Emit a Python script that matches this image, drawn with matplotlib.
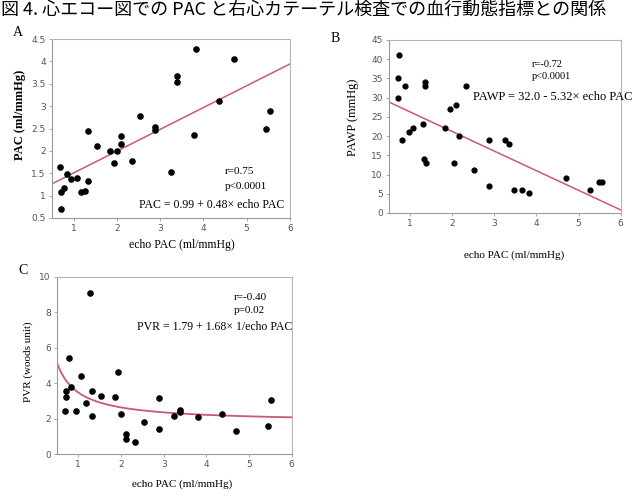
import numpy as np
from matplotlib import pyplot as plt

plt.rcParams['font.family'] = ['Liberation Serif', 'DejaVu Serif']

# A: echo PAC vs PAC
a_x = [0.69, 0.70, 0.70, 0.78, 0.84, 0.95, 1.07, 1.17, 1.27, 1.33, 1.33, 1.55, 1.85, 1.93,
       2.00, 2.10, 2.10, 2.34, 2.54, 2.87, 2.87, 3.26, 3.40, 3.40, 3.79, 3.84, 4.37, 4.70,
       5.45, 5.54]
a_y = [1.64, 1.09, 0.69, 1.17, 1.48, 1.37, 1.39, 1.08, 1.11, 2.45, 1.33, 2.11, 1.99, 1.73,
       1.99, 2.16, 2.34, 1.78, 2.78, 2.53, 2.47, 1.53, 3.68, 3.53, 2.35, 4.27, 3.12, 4.05,
       2.50, 2.89]
a_fit = (1.02, 0.487)

# B: echo PAC vs PAWP
b_x = [0.73, 0.71, 0.71, 0.87, 0.80, 0.98, 1.08, 1.30, 1.35, 1.35, 1.34, 1.38, 1.84, 1.94,
       2.04, 2.10, 2.17, 2.34, 2.51, 2.87, 2.87, 3.25, 3.35, 3.46, 3.65, 3.83, 4.70, 5.27,
       5.49, 5.56]
b_y = [41.1, 35.0, 30.0, 33.0, 18.9, 21.0, 22.0, 23.1, 34.1, 33.1, 14.1, 13.0, 22.0, 27.0,
       13.0, 28.0, 20.1, 33.0, 11.1, 18.9, 6.9, 18.9, 18.0, 6.1, 6.1, 5.1, 9.0, 6.1,
       8.0, 8.0]
b_fit = (31.4, -5.1)

# C: echo PAC vs PVR
c_x = [1.27, 0.78, 1.07, 0.70, 0.70, 0.84, 0.69, 0.95, 1.18, 1.33, 1.33, 1.54, 1.86, 1.93,
       2.01, 2.11, 2.11, 2.32, 2.53, 2.88, 2.89, 3.25, 3.38, 3.38, 3.81, 4.37, 4.69, 5.45,
       5.51]
c_y = [9.10, 5.43, 4.40, 3.57, 3.20, 3.76, 2.41, 2.41, 2.86, 3.53, 2.16, 3.27, 3.20, 4.61,
       2.24, 1.15, 0.86, 0.66, 1.79, 1.39, 3.16, 2.12, 2.48, 2.35, 2.11, 2.27, 1.30, 1.56,
       3.06]
c_fit = (1.79, 1.68)

red = '#cc5a6e'
grey = '#9a9a9a'

fig = plt.figure(figsize=(6.36, 4.95), dpi=100)


def style(ax, ylim, yticks, ylabels):
    ax.set_xlim(0.5, 6)
    ax.set_ylim(*ylim)
    ax.set_xticks([1, 2, 3, 4, 5, 6])
    ax.set_yticks(yticks)
    ax.set_yticklabels(ylabels)
    for s in ax.spines.values():
        s.set_color('#b5b5b5')
        s.set_linewidth(0.8)
    ax.spines['left'].set_color(grey)
    ax.spines['bottom'].set_color(grey)
    ax.tick_params(length=2.5, width=0.6, color=grey, labelsize=6.5, labelcolor='#555555', pad=2)
    for t in ax.get_xticklabels() + ax.get_yticklabels():
        t.set_family('DejaVu Sans')


def labels(ax, xl, yl, xpos, ypos, xsize, ysize, bold=False):
    ax.set_xlabel(xl, fontsize=xsize, va='center')
    ax.set_ylabel(yl, fontsize=ysize, va='center', fontweight='bold' if bold else 'normal')
    ax.xaxis.set_label_coords(*xpos)
    ax.yaxis.set_label_coords(*ypos)


xs = np.linspace(0.5, 6, 200)

# panel A
ax = fig.add_axes([0.0818, 0.5596, 0.374, 0.3616])
ax.scatter(a_x, a_y, s=14, color='black', zorder=3)
ax.plot(xs, a_fit[0] + a_fit[1] * xs, color=red, lw=1.1)
style(ax, (0.5, 4.5), np.arange(0.5, 4.6, 0.5), ['0.5', '1', '1.5', '2', '2.5', '3', '3.5', '4', '4.5'])
labels(ax, 'echo PAC (ml/mmHg)', 'PAC (ml/mmHg)', (0.546, -0.151), (-0.134, 0.575), 8.5, 9, bold=True)
ax.text(4.5, 1.54, 'r=0.75', fontsize=8, va='center')
ax.text(4.5, 1.21, 'p<0.0001', fontsize=8, va='center')
ax.text(2.5, 0.80, 'PAC = 0.99 + 0.48\u00d7 echo PAC', fontsize=8.5, va='center')

# panel B
ax = fig.add_axes([0.6116, 0.5697, 0.3643, 0.3495])
ax.scatter(b_x, b_y, s=12, color='black', zorder=3)
ax.plot(xs, b_fit[0] + b_fit[1] * xs, color=red, lw=1.1)
style(ax, (0, 45), np.arange(0, 46, 5), [str(v) for v in range(0, 46, 5)])
labels(ax, 'echo PAC (ml/mmHg)', 'PAWP (mmHg)', (0.54, -0.243), (-0.155, 0.552), 8, 9)
ax.text(3.9, 38.7, 'r=-0.72', fontsize=7.5, va='center')
ax.text(3.9, 35.5, 'p<0.0001', fontsize=7.5, va='center')
ax.text(2.5, 30.3, 'PAWP = 32.0 - 5.32\u00d7 echo PAC', fontsize=9, va='center')

# panel C
ax = fig.add_axes([0.0896, 0.0828, 0.369, 0.358])
ax.scatter(c_x, c_y, s=14, color='black', zorder=3)
ax.plot(xs, c_fit[0] + c_fit[1] / xs, color=red, lw=1.3)
style(ax, (0, 10), np.arange(0, 11, 2), [str(v) for v in range(0, 11, 2)])
labels(ax, 'echo PAC (ml/mmHg)', 'PVR (woods unit)', (0.535, -0.169), (-0.124, 0.519), 8, 8)
ax.text(4.65, 8.82, 'r=-0.40', fontsize=8, va='center')
ax.text(4.65, 8.12, 'p=0.02', fontsize=8, va='center')
ax.text(2.37, 7.18, 'PVR = 1.79 + 1.68\u00d7 1/echo PAC', fontsize=8.5, va='center')

# panel letters and title
fig.text(13 / 636, 1 - 33 / 495, 'A', fontsize=10, va='center')
fig.text(331 / 636, 1 - 39 / 495, 'B', fontsize=10, va='center')
fig.text(18 / 636, 1 - 270 / 495, 'C', fontsize=10, va='center')
fig.text(0.002, 1 - 1 / 495, '図 4. 心エコー図での PAC と右心カテーテル検査での血行動態指標との関係',
         fontsize=13, family=['Noto Sans CJK JP', 'DejaVu Sans'], va='top')

fig.savefig('out.png', dpi=100)
